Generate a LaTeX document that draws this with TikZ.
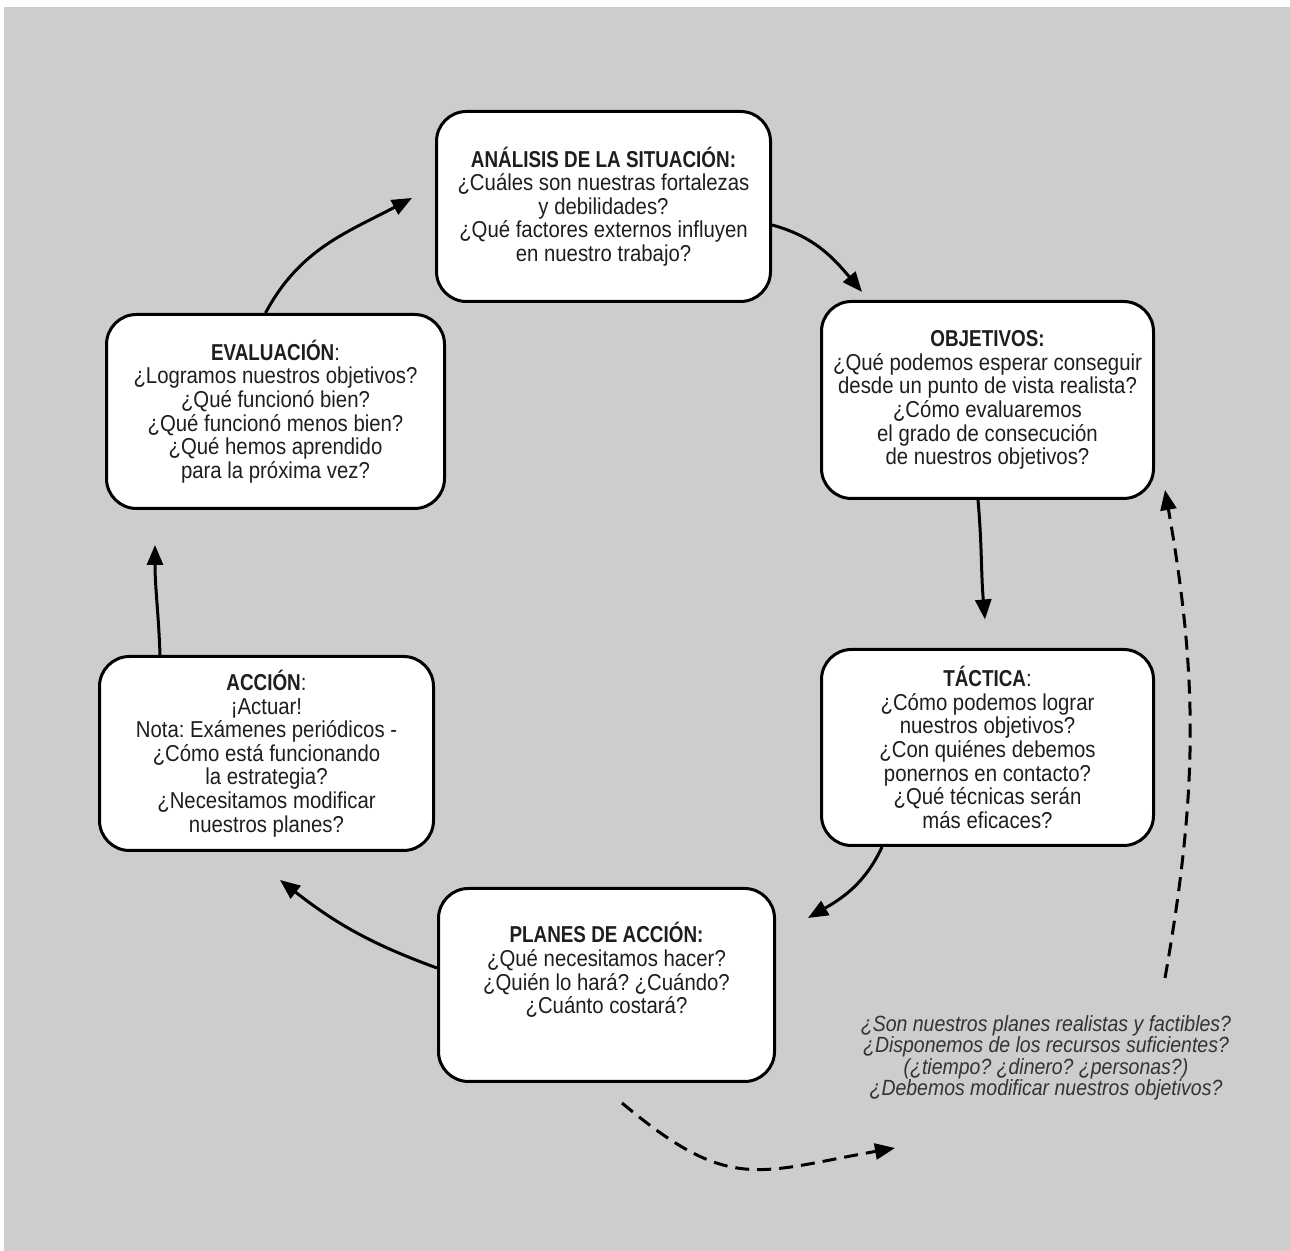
\documentclass[tikz,border=0pt]{standalone}
\usepackage{fontspec}
\setmainfont{Liberation Sans}[FakeStretch=0.885,BoldFeatures={FakeStretch=0.82}]
\usetikzlibrary{arrows.meta}
\frenchspacing

\definecolor{fondo}{HTML}{CDCDCD}
\definecolor{textogris}{HTML}{333333}
\definecolor{tinta}{HTML}{1E1E1E}

\tikzset{
  caja/.style={draw, line width=1.5pt, rounded corners=15pt, fill=white, text=tinta,
    align=center, inner sep=0pt, font=\fontsize{11.5}{11.8}\selectfont},
  textocaja/.style={align=center, inner sep=0pt, text=tinta, font=\fontsize{11.5}{11.8}\selectfont},
  flecha/.style={line width=1.5pt, -{Triangle[length=10pt,width=8pt]}},
  flechapunteada/.style={flecha, dash pattern=on 7pt off 4pt},
}

\begin{document}
\begin{tikzpicture}[x=0.5pt,y=0.5pt]
    % Marco y fondo gris de la figura.
    \useasboundingbox (0,0) rectangle (1290,1251);
    \fill[white] (0,0) rectangle (1290,1251);
    \fill[fondo] (4,0) rectangle (1290,1244);

    % Las seis etapas del ciclo, en sentido horario desde arriba.
    \node[caja, minimum width=167pt, minimum height=95pt] (analisis) at (603.5,1044.5)
        {\textbf{ANÁLISIS DE LA SITUACIÓN:}\\ ¿Cuáles son nuestras fortalezas\\ y debilidades?\\
         ¿Qué factores externos influyen\\ en nuestro trabajo?};
    \node[caja, minimum width=166pt, minimum height=98.5pt] (objetivos) at (987.5,851)
        {\textbf{OBJETIVOS:}\\ ¿Qué podemos esperar conseguir\\ desde un punto de vista realista?\\
         ¿Cómo evaluaremos\\ el grado de consecución\\ de nuestros objetivos?};
    \node[caja, minimum width=166pt, minimum height=98pt] (tactica) at (987.5,503.5)
        {\textbf{TÁCTICA}:\\ ¿Cómo podemos lograr\\ nuestros objetivos?\\ ¿Con quiénes debemos\\
         ponernos en contacto?\\ ¿Qué técnicas serán\\ más eficaces?};
    \node[caja, minimum width=168pt, minimum height=96.5pt] (planes) at (606.5,266) {};
    \node[textocaja] (planestexto) at (606.5,281)
        {\textbf{PLANES DE ACCIÓN:}\\ ¿Qué necesitamos hacer?\\ ¿Quién lo hará? ¿Cuándo?\\ ¿Cuánto costará?};
    \node[caja, minimum width=167pt, minimum height=97pt] (accion) at (266.5,497.5)
        {\textbf{ACCIÓN}:\\ ¡Actuar!\\ Nota: Exámenes periódicos -\\ ¿Cómo está funcionando\\
         la estrategia?\\ ¿Necesitamos modificar\\ nuestros planes?};
    \node[caja, minimum width=169pt, minimum height=97pt] (evaluacion) at (275.5,839.5)
        {\textbf{EVALUACIÓN}:\\ ¿Logramos nuestros objetivos?\\ ¿Qué funcionó bien?\\
         ¿Qué funcionó menos bien?\\ ¿Qué hemos aprendido\\ para la próxima vez?};

    % Preguntas de control, fuera del ciclo.
    \node[align=center, inner sep=0pt, text=textogris, font=\itshape\fontsize{11}{10.75}\selectfont]
        (preguntas) at (1046,193)
        {¿Son nuestros planes realistas y factibles?\\ ¿Disponemos de los recursos suficientes?\\
         (¿tiempo? ¿dinero? ¿personas?)\\ ¿Debemos modificar nuestros objetivos?};

    % Flechas del ciclo.
    \draw[flecha] ([shift={(-10,0)}]evaluacion.north) to[out=62,in=208] ([shift={(-23,8.5)}]analisis.west);
    \draw[flecha] ([shift={(0,-18.5)}]analisis.east) to[out=-15,in=130] ([shift={(-125.5,8)}]objetivos.north);
    \draw[flecha] ([shift={(-9.5,0)}]objetivos.south) to[out=-85,in=95] ([shift={(-2.5,28.5)}]tactica.north);
    \draw[flecha] ([shift={(-105.5,0)}]tactica.south) to[out=-115,in=30] ([shift={(32,-31)}]planes.north east);
    \draw[flecha] ([shift={(0,17)}]planes.west) to[out=160,in=-38] ([shift={(13.5,-28)}]accion.south);
    \draw[flecha] ([shift={(-106.5,0)}]accion.north) to[out=92,in=-90] ([shift={(-120.5,-35)}]evaluacion.south);

    % Flechas punteadas hacia las preguntas y de vuelta a los objetivos.
    \coordinate (salida) at ([shift={(15.5,-20)}]planes.south);
    \coordinate (llegada) at ([shift={(-151,-90)}]preguntas.center);
    \coordinate (subida) at ([shift={(119,80)}]preguntas.center);
    \coordinate (retorno) at ([shift={(10,10)}]objetivos.south east);
    \draw[flechapunteada] (salida) to[out=-40,in=190,looseness=1.3] (llegada);
    \draw[flechapunteada] (subida) to[out=80,in=-80] (retorno);
\end{tikzpicture}
\end{document}
